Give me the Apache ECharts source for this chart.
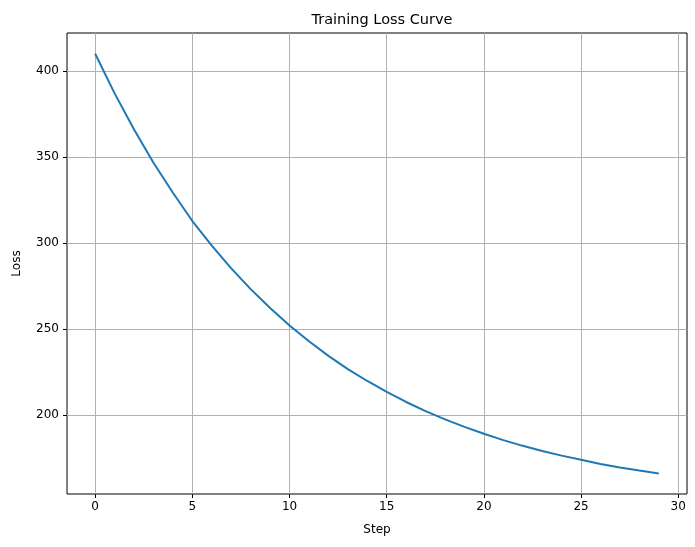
<!DOCTYPE html>
<html>
<head>
<meta charset="utf-8">
<script src="https://cdn.jsdelivr.net/npm/echarts@6/dist/echarts.min.js"></script>
<style>
  html, body { margin: 0; padding: 0; background: #fff; }
  #main { width: 695px; height: 547px; }
</style>
</head>
<body>
<div id="main"></div>
<script>
// loss per training step
const steps = [0, 1, 2, 3, 4, 5, 6, 7, 8, 9, 10, 11, 12, 13, 14, 15, 16, 17, 18, 19, 20, 21, 22, 23, 24, 25, 26, 27, 28, 29];
const loss = [410, 387, 366, 346.7, 329.2, 312.8, 298.5, 285.3, 273.2, 262.2, 252.1, 242.9, 234.4, 226.7, 219.8, 213.5, 207.6, 202.3, 197.5, 193.1, 189.1, 185.4, 182.1, 179.1, 176.4, 174, 171.6, 169.5, 167.7, 166];
const xTicks = [0, 5, 10, 15, 20, 25, 30];
const yTicks = [200, 250, 300, 350, 400];

const font = 'DejaVu Sans';
const chart = echarts.init(document.getElementById('main'));

chart.setOption({
  animation: false,
  title: {
    text: 'Training Loss Curve',
    left: 377, top: 8, textAlign: 'center',
    textStyle: { fontFamily: font, fontSize: 14.5, fontWeight: 'normal', color: '#000' }
  },
  grid: {
    left: 67, right: 8, top: 33, bottom: 53,
    show: true, borderColor: '#000', borderWidth: 1
  },
  xAxis: {
    type: 'value',
    min: -1.45, max: 30.45,
    name: 'Step', nameLocation: 'middle', nameGap: 30,
    nameTextStyle: { fontFamily: font, fontSize: 12, color: '#000' },
    axisLine: { show: false, onZero: false },
    axisTick: { show: true, length: 4, customValues: xTicks, lineStyle: { color: '#000' } },
    axisLabel: { customValues: xTicks, margin: 7, fontFamily: font, fontSize: 12, color: '#000' },
    splitLine: { show: true, lineStyle: { color: '#b0b0b0', width: 1 } }
  },
  yAxis: {
    type: 'value',
    min: 154.1, max: 422.1,
    name: 'Loss', nameLocation: 'middle', nameGap: 44, nameRotate: 90,
    nameTextStyle: { fontFamily: font, fontSize: 12, color: '#000' },
    axisLine: { show: false, onZero: false },
    axisTick: { show: true, length: 4, customValues: yTicks, lineStyle: { color: '#000' } },
    axisLabel: { customValues: yTicks, margin: 8, fontFamily: font, fontSize: 12, color: '#000' },
    splitLine: { show: true, lineStyle: { color: '#b0b0b0', width: 1 } }
  },
  series: [{
    type: 'line',
    data: steps.map((s, i) => [s, loss[i]]),
    showSymbol: false,
    lineStyle: { color: '#1f77b4', width: 2 },
    itemStyle: { color: '#1f77b4' }
  }]
});
</script>
</body>
</html>
